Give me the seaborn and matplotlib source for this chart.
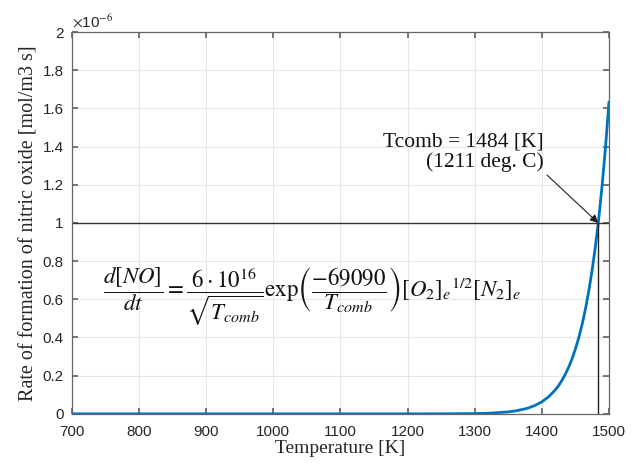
#!/usr/bin/env python3
"""Rate of formation of nitric oxide vs combustion temperature."""

import matplotlib
matplotlib.use("Agg")
import matplotlib.pyplot as plt
import pandas as pd
import seaborn as sns

# values (rate in units of 1e-6 mol/m3 s)
TEMPERATURE = [700, 800, 900, 1000, 1100, 1200, 1250, 1300, 1325, 1350, 1360,
               1375, 1380, 1390, 1400, 1410, 1420, 1425, 1430, 1435, 1440,
               1445, 1450, 1455, 1460, 1465, 1470, 1475, 1480, 1484, 1485,
               1490, 1495, 1500]
RATE = [0.0, 0.0, 0.0, 0.0, 0.0, 0.000017, 0.00018, 0.00147, 0.00397, 0.0103,
        0.0150, 0.0259, 0.0310, 0.0443, 0.0630, 0.0891, 0.1253, 0.148, 0.1756,
        0.2075, 0.245, 0.288, 0.340, 0.399, 0.469, 0.550, 0.645, 0.755, 0.883,
        1.0, 1.031, 1.204, 1.403, 1.634]
T_COMB = 1484
RATE_REF = 1.0
X_TICKS = [700, 800, 900, 1000, 1100, 1200, 1300, 1400, 1500]
Y_TICKS = [0, 0.2, 0.4, 0.6, 0.8, 1, 1.2, 1.4, 1.6, 1.8, 2]
Y_TICK_LABELS = ["0", "0.2", "0.4", "0.6", "0.8", "1", "1.2", "1.4", "1.6", "1.8", "2"]

df = pd.DataFrame({"T": TEMPERATURE, "rate": RATE})

sns.set_theme(style="whitegrid")
plt.rcParams["font.family"] = ["Liberation Sans", "DejaVu Sans"]
plt.rcParams["mathtext.fontset"] = "stix"

fig, ax = plt.subplots(figsize=(6.37, 4.65), dpi=100)
fig.subplots_adjust(left=0.113, right=0.956, top=0.931, bottom=0.110)

sns.lineplot(data=df, x="T", y="rate", ax=ax, color="#0072BD", linewidth=2)
ax.axhline(RATE_REF, color="#333333", linewidth=1)
ax.plot([T_COMB, T_COMB], [0, RATE_REF], color="#222222", linewidth=1)

ax.set_xlim(700, 1500)
ax.set_ylim(0, 2)
ax.set_xticks(X_TICKS)
ax.set_yticks(Y_TICKS)
ax.set_yticklabels(Y_TICK_LABELS)
ax.tick_params(labelsize=11, labelcolor="#262626", color="#666666", length=4,
               direction="in", top=True, right=True, bottom=True, left=True)
ax.tick_params(axis="x", pad=8)
ax.tick_params(axis="y", pad=6)
ax.grid(True, color="#e6e6e6", linewidth=0.8)
for side in ax.spines.values():
    side.set_color("#666666")
    side.set_linewidth(0.9)
ax.set_facecolor("white")

serif = ["Liberation Serif", "DejaVu Serif"]
ax.set_xlabel("Temperature [K]", family=serif, fontsize=14, color="#262626", labelpad=1)
ax.set_ylabel("Rate of formation of nitric oxide [mol/m3 s]", family=serif,
              fontsize=14.5, color="#262626", labelpad=3)
ax.text(0.0, 1.005, r"$\times$10$^{-6}$", transform=ax.transAxes, fontsize=11,
        color="#262626", va="bottom", ha="left")

ax.annotate("Tcomb = 1484 [K]\n(1211 deg. C)", xy=(T_COMB, RATE_REF),
            xytext=(1403, 1.37), family=serif, fontsize=15.5, ha="right",
            va="center", linespacing=1.05, color="#111111",
            arrowprops=dict(arrowstyle="-|>", color="#222222", lw=0.8,
                            shrinkA=0, shrinkB=0, mutation_scale=12,
                            relpos=(1.0, 0.0)))

ax.text(1057, 0.61,
        r"$\dfrac{d[NO]}{dt} = \dfrac{6\cdot 10^{16}}{\sqrt{T_{comb}}}"
        r"\mathrm{exp}\left(\dfrac{-69090}{T_{comb}}\right)"
        r"[O_2]_e{}^{1/2}[N_2]_e$",
        fontsize=16.5, ha="center", va="center", color="#111111")

fig.savefig("out.png", dpi=100)
plt.close(fig)
